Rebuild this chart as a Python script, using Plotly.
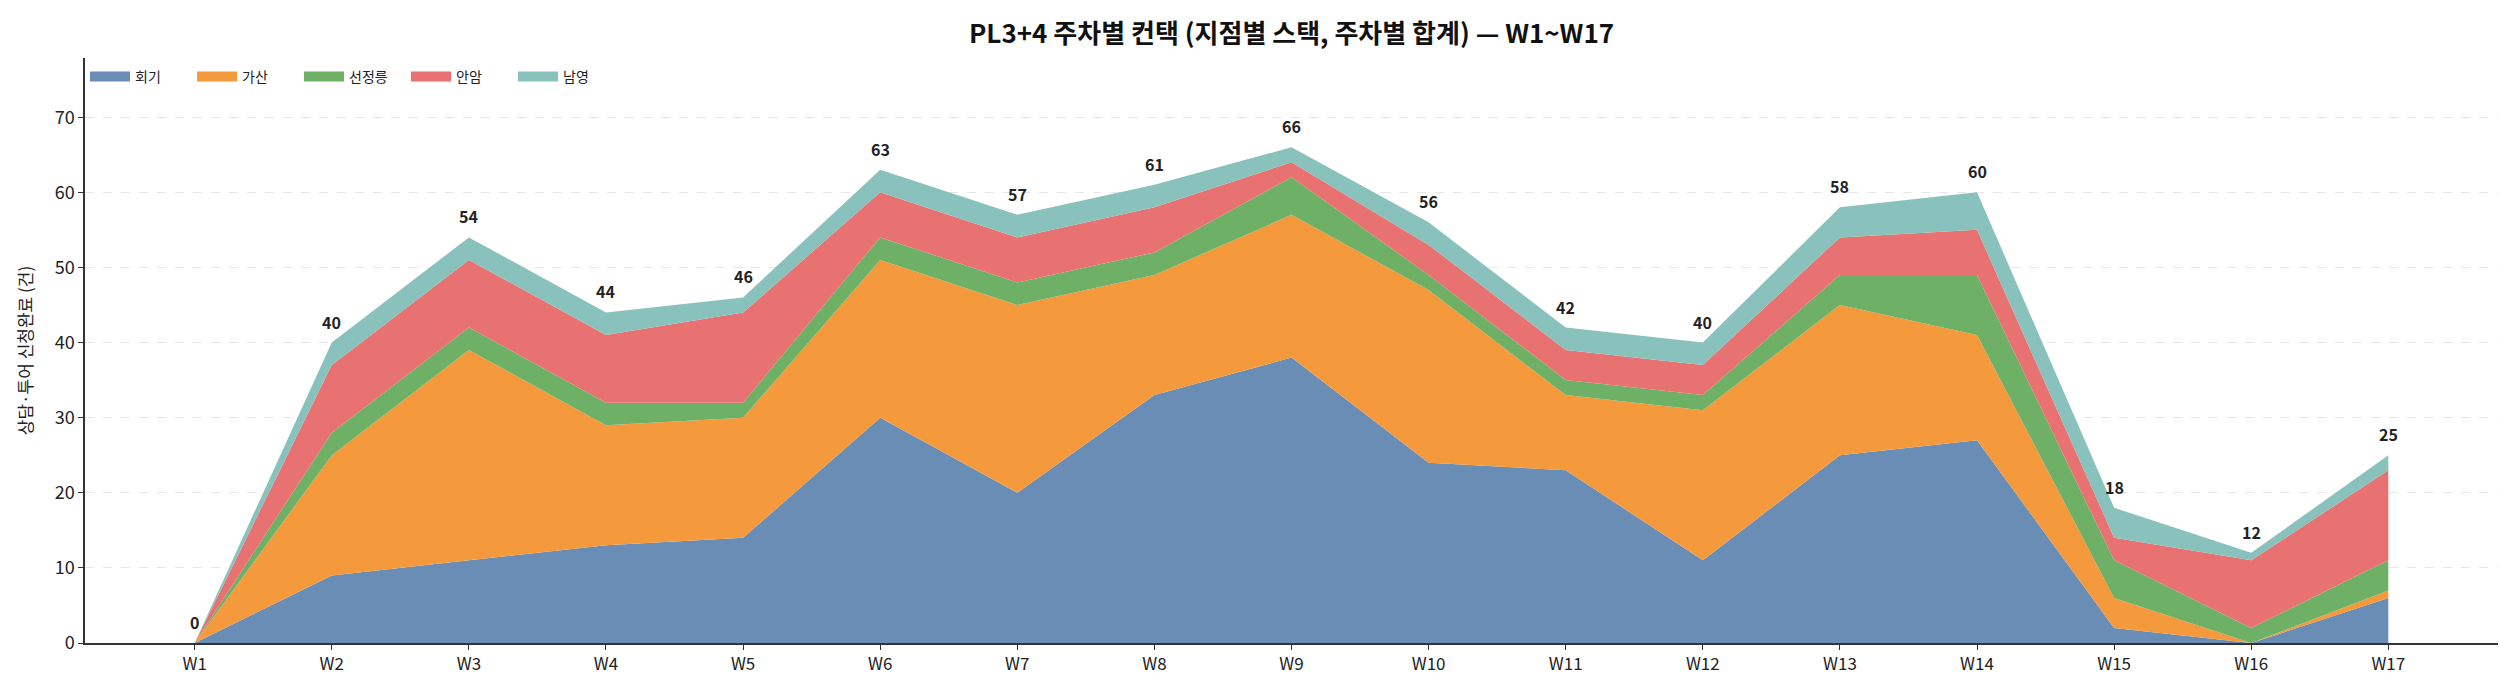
import plotly.graph_objects as go

weeks = [f"W{i}" for i in range(1, 18)]

# 지점별 주차 컨택 수
hoegi = [0, 9, 11, 13, 14, 30, 20, 33, 38, 24, 23, 11, 25, 27, 2, 0, 6]
gasan = [0, 16, 28, 16, 16, 21, 25, 16, 19, 23, 10, 20, 20, 14, 4, 0, 1]
seonjeongneung = [0, 3, 3, 3, 2, 3, 3, 3, 5, 2, 2, 2, 4, 8, 5, 2, 4]
anam = [0, 9, 9, 9, 12, 6, 6, 6, 2, 4, 4, 4, 5, 6, 3, 9, 12]
namyeong = [0, 3, 3, 3, 2, 3, 3, 3, 2, 3, 3, 3, 4, 5, 4, 1, 2]

branches = ["회기", "가산", "선정릉", "안암", "남영"]
colors = ["#6a8db6", "#f5993d", "#6eb066", "#e87171", "#89c1bc"]
series = [hoegi, gasan, seonjeongneung, anam, namyeong]

totals = [sum(v) for v in zip(*series)]

FONT = "Noto Sans CJK KR"

fig = go.Figure()
for name, vals, col in zip(branches, series, colors):
    fig.add_trace(go.Scatter(
        x=weeks, y=vals, name=name,
        mode="lines", stackgroup="one",
        line=dict(width=0, color=col),
        fillcolor=col,
        legendgroup=name, showlegend=False,
        hovertemplate=name + " %{x}: %{y}<extra></extra>",
    ))

# 범례용 (두꺼운 사각 패치처럼 보이게)
for name, col in zip(branches, colors):
    fig.add_trace(go.Scatter(
        x=[None], y=[None], name=name, mode="lines",
        line=dict(width=11, color=col),
        legendgroup=name, showlegend=True, hoverinfo="skip",
    ))

# 주차별 합계 라벨
for wk, tot in zip(weeks, totals):
    fig.add_annotation(
        x=wk, y=tot, text=f"<b>{tot}</b>", showarrow=False,
        yanchor="bottom", yshift=7,
        font=dict(family=FONT, size=16, color="#222222"),
    )

fig.update_layout(
    width=2506, height=686,
    paper_bgcolor="white", plot_bgcolor="white",
    font=dict(family=FONT, color="#222222"),
    title=dict(
        text="<b>PL3+4 주차별 컨택 (지점별 스택, 주차별 합계) — W1~W17</b>",
        x=0.5122, xanchor="center", y=0.962, yanchor="middle",
        font=dict(size=26, color="#111111"),
    ),
    margin=dict(l=77, r=16, t=50, b=51),
    legend=dict(
        orientation="h", x=0.0, y=0.995, xanchor="left", yanchor="top",
        font=dict(size=14), bgcolor="rgba(0,0,0,0)", borderwidth=0,
        itemwidth=40, entrywidth=52, entrywidthmode="pixels",
        traceorder="normal",
    ),
    showlegend=True,
)

fig.update_xaxes(
    type="category", range=[-0.8, 16.8],
    showline=True, linecolor="#333333", linewidth=1.5,
    ticks="outside", ticklen=5, tickcolor="#333333",
    showgrid=False, tickfont=dict(size=17, color="#222222"),
)
fig.update_yaxes(
    range=[0, max(totals) * 1.18],
    tickvals=list(range(0, 80, 10)),
    showline=True, linecolor="#333333", linewidth=1.5,
    ticks="outside", ticklen=5, tickcolor="#333333",
    showgrid=True, gridcolor="#e6e6e6", griddash="dash", gridwidth=1,
    zeroline=False, tickfont=dict(size=18, color="#222222"),
    title=dict(text="상담·투어 신청완료 (건)", font=dict(size=17, color="#222222"), standoff=18),
)

fig.write_html("out.html")
